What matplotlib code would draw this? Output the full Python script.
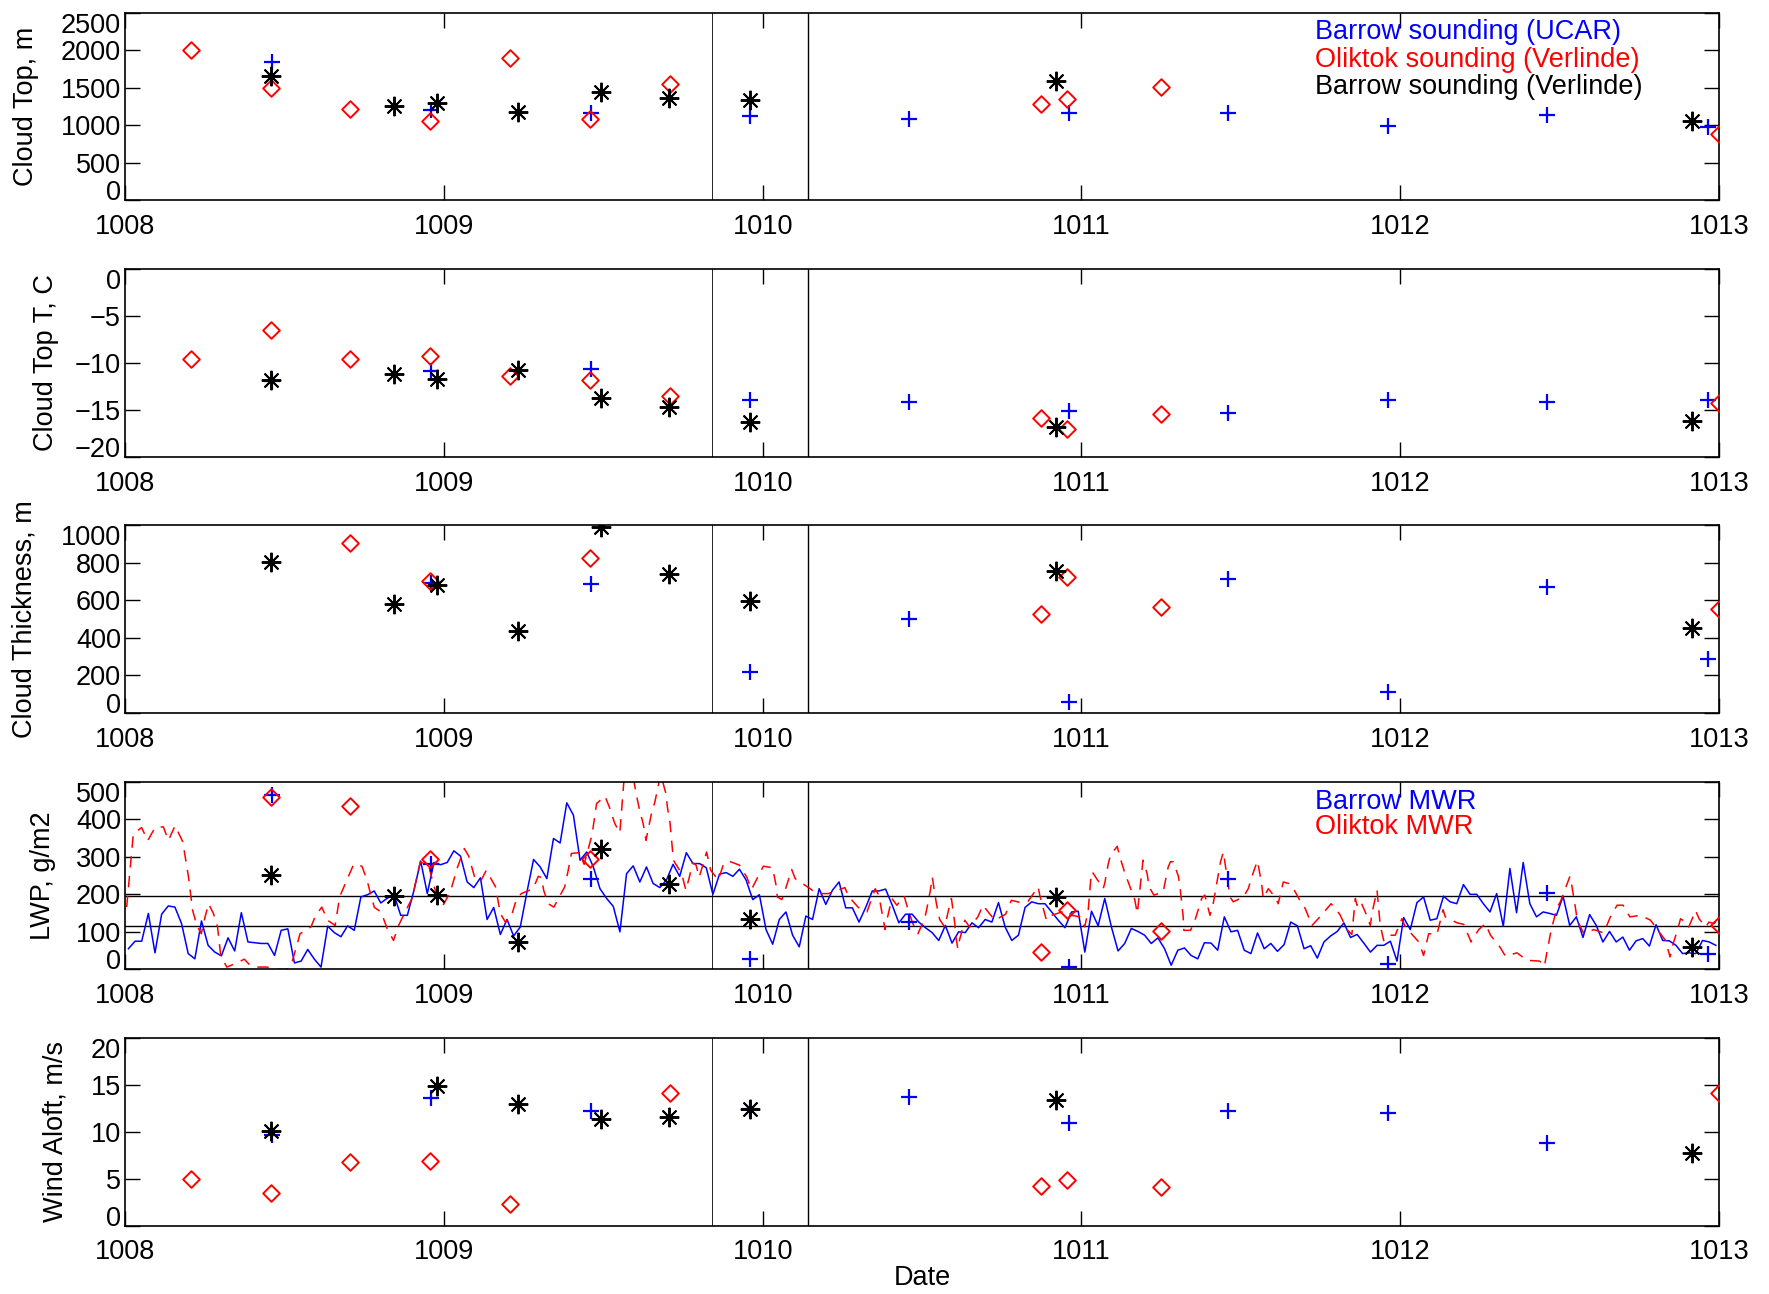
import numpy as np
import matplotlib.pyplot as plt
from matplotlib.path import Path

plt.rcParams['font.family'] = ['Liberation Sans', 'DejaVu Sans']

# ---- sounding data -------------------------------------------------------
# Barrow sounding (UCAR)
ucar_t = [1008.46, 1008.96, 1009.46, 1009.96, 1010.46, 1010.96, 1011.46, 1011.96, 1012.46, 1012.965]
ucar_top = [1850, 1205, 1170, 1120, 1086, 1160, 1162, 985, 1140, 972]
ucar_topT = [-11.95, -10.83, -10.66, -13.96, -14.13, -15.13, -15.28, -13.89, -14.14, -13.89]
ucar_thick = [np.nan, 692, 688, 216, 498, 57, 713, 109, 669, 286]
ucar_lwp = [464, 280, 242, 28, 126, 6, 242, 13, 204, 42]
ucar_wind = [9.65, 13.62, 12.23, 12.38, 13.72, 10.96, 12.23, 11.99, 8.83, np.nan]

# Oliktok sounding (Verlinde)
olk_t = [1008.207, 1008.458, 1008.707, 1008.957, 1009.207, 1009.458, 1009.708, 1010.872, 1010.955, 1011.248, 1013.0]
olk_top = [2000, 1497, 1217, 1052, 1894, 1083, 1546, 1287, 1345, 1509, 882]
olk_topT = [-9.52, -6.43, -9.52, -9.27, -11.4, -11.76, -13.5, -15.81, -17.05, -15.42, -14.25]
olk_thick = [np.nan, np.nan, 906, 701, np.nan, 825, np.nan, 527, 722, 567, 553]
olk_lwp = [np.nan, 460, 435, 295, np.nan, 293, np.nan, 46, 157, 102, 117]
olk_wind = [4.96, 3.44, 6.81, 6.88, 2.27, np.nan, 14.18, 4.26, 4.82, 4.15, 14.18]

# Barrow sounding (Verlinde)
brw_t = [1008.458, 1008.843, 1008.977, 1009.232, 1009.492, 1009.706, 1009.959, 1010.92, 1012.916]
brw_top = [1653, 1261, 1297, 1176, 1439, 1364, 1333, 1594, 1051]
brw_topT = [-11.83, -11.19, -11.65, -10.76, -13.78, -14.74, -16.27, -16.87, -16.16]
brw_thick = [807, 581, 683, 439, 990, 740, 599, 758, 454]
brw_lwp = [251, 196, 199, 73, 322, 227, 133, 193, 60]
brw_wind = [10.07, np.nan, 14.86, 13.01, 11.38, 11.6, 12.38, 13.44, 7.70]

# ---- MWR time series -----------------------------------------------------
# Barrow MWR, half-hourly from 1008.0105
barrow_t0 = 1008.0105
barrow_dt = 1.0 / 48
barrow_lwp = [
    55, 75, 75, 149, 44, 147, 169, 166, 122, 42,
    28, 129, 64, 46, 36, 84, 49, 151, 73, 71,
    69, 69, 37, 104, 108, 17, 22, 53, 27, 6,
    115, 98, 87, 116, 104, 193, 199, 209, 177, 190,
    198, 144, 144, 211, 289, 202, 285, 279, 285, 316,
    302, 233, 218, 244, 133, 165, 93, 133, 89, 113,
    206, 293, 273, 242, 349, 337, 444, 411, 291, 313,
    273, 215, 189, 168, 100, 255, 276, 233, 273, 229,
    218, 238, 280, 248, 311, 282, 282, 271, 200, 254,
    258, 248, 267, 238, 186, 199, 106, 67, 133, 153,
    91, 60, 142, 133, 215, 173, 211, 233, 164, 164,
    126, 165, 209, 209, 214, 171, 124, 147, 147, 126,
    111, 98, 77, 117, 70, 100, 98, 124, 111, 133,
    126, 178, 113, 77, 91, 165, 180, 175, 175, 153,
    131, 111, 153, 155, 46, 155, 116, 189, 113, 49,
    69, 109, 101, 91, 69, 84, 55, 11, 51, 57,
    37, 28, 71, 70, 51, 140, 100, 104, 51, 42,
    97, 55, 69, 48, 66, 126, 116, 55, 63, 30,
    73, 89, 101, 124, 85, 93, 70, 46, 64, 64,
    75, 22, 138, 106, 178, 193, 131, 135, 195, 180,
    175, 226, 200, 200, 175, 153, 202, 115, 269, 151,
    285, 175, 140, 153, 149, 144, 195, 117, 140, 85,
    146, 117, 73, 101, 73, 86, 51, 76, 82, 62,
    119, 77, 76, 64, 42, 44, 42, 77, 73, 64,
]

# Oliktok MWR
oliktok_t = [
    1008.005, 1008.026, 1008.052, 1008.071, 1008.094, 1008.120, 1008.136, 1008.157, 1008.181, 1008.199,
    1008.212, 1008.225, 1008.239, 1008.251, 1008.262, 1008.277, 1008.290, 1008.300, 1008.319, 1008.345,
    1008.374, 1008.392, 1008.413, 1008.445, 1008.471, 1008.508, 1008.523, 1008.549, 1008.583, 1008.597,
    1008.617, 1008.635, 1008.659, 1008.673, 1008.691, 1008.717, 1008.743, 1008.759, 1008.771, 1008.782,
    1008.803, 1008.822, 1008.842, 1008.858, 1008.876, 1008.900, 1008.926, 1008.952, 1008.968, 1008.984,
    1008.999, 1009.020, 1009.043, 1009.064, 1009.078, 1009.099, 1009.117, 1009.133, 1009.162, 1009.177,
    1009.193, 1009.211, 1009.228, 1009.243, 1009.280, 1009.296, 1009.306, 1009.313, 1009.327, 1009.345,
    1009.379, 1009.390, 1009.400, 1009.424, 1009.440, 1009.465, 1009.479, 1009.505, 1009.519, 1009.536,
    1009.552, 1009.568, 1009.590, 1009.605, 1009.615, 1009.625, 1009.634, 1009.651, 1009.662, 1009.680,
    1009.697, 1009.701, 1009.709, 1009.720, 1009.746, 1009.759, 1009.770, 1009.780, 1009.791, 1009.801,
    1009.816, 1009.824, 1009.837, 1009.861, 1009.876, 1009.892, 1009.927, 1009.950, 1009.965, 1010.002,
    1010.031, 1010.042, 1010.046, 1010.060, 1010.073, 1010.091, 1010.102, 1010.149, 1010.170, 1010.206,
    1010.258, 1010.269, 1010.300, 1010.327, 1010.353, 1010.364, 1010.384, 1010.389, 1010.405, 1010.421,
    1010.444, 1010.453, 1010.471, 1010.487, 1010.508, 1010.515, 1010.526, 1010.532, 1010.539, 1010.545,
    1010.555, 1010.571, 1010.585, 1010.592, 1010.602, 1010.607, 1010.612, 1010.617, 1010.634, 1010.649,
    1010.675, 1010.691, 1010.710, 1010.728, 1010.762, 1010.780, 1010.815, 1010.833, 1010.864, 1010.869,
    1010.890, 1010.906, 1010.953, 1010.969, 1010.995, 1011.010, 1011.021, 1011.031, 1011.036, 1011.068,
    1011.073, 1011.084, 1011.091, 1011.112, 1011.122, 1011.136, 1011.152, 1011.167, 1011.175, 1011.183,
    1011.193, 1011.206, 1011.212, 1011.227, 1011.256, 1011.272, 1011.279, 1011.288, 1011.304, 1011.309,
    1011.314, 1011.319, 1011.321, 1011.342, 1011.356, 1011.377, 1011.387, 1011.403, 1011.413, 1011.436,
    1011.445, 1011.466, 1011.476, 1011.508, 1011.523, 1011.541, 1011.552, 1011.565, 1011.570, 1011.586,
    1011.607, 1011.617, 1011.633, 1011.649, 1011.659, 1011.685, 1011.702, 1011.723, 1011.749, 1011.783,
    1011.810, 1011.833, 1011.848, 1011.859, 1011.864, 1011.874, 1011.890, 1011.906, 1011.911, 1011.927,
    1011.937, 1011.948, 1011.963, 1011.984, 1012.005, 1012.016, 1012.058, 1012.073, 1012.089, 1012.115,
    1012.134, 1012.141, 1012.178, 1012.199, 1012.222, 1012.246, 1012.267, 1012.283, 1012.312, 1012.330,
    1012.366, 1012.398, 1012.437, 1012.452, 1012.461, 1012.473, 1012.484, 1012.492, 1012.502, 1012.532,
    1012.536, 1012.542, 1012.549, 1012.555, 1012.576, 1012.607, 1012.638, 1012.659, 1012.680, 1012.699,
    1012.720, 1012.754, 1012.785, 1012.816, 1012.832, 1012.846, 1012.856, 1012.869, 1012.879, 1012.895,
    1012.905, 1012.926, 1012.937, 1012.958, 1012.968, 1012.984, 1013.000,
]
oliktok_lwp = [
    166, 362, 378, 343, 378, 380, 344, 383, 340, 246,
    157, 117, 95, 140, 175, 149, 113, 37, 6, 15,
    27, 11, 6, 6, 0, 0, 17, 95, 113, 142,
    166, 131, 117, 193, 229, 280, 275, 238, 198, 165,
    153, 109, 77, 117, 149, 189, 286, 278, 224, 184,
    173, 206, 273, 322, 302, 238, 238, 264, 220, 149,
    126, 140, 188, 202, 215, 248, 245, 211, 175, 166,
    220, 264, 309, 311, 280, 360, 442, 462, 433, 389,
    364, 540, 530, 460, 420, 389, 344, 415, 447, 520,
    467, 433, 393, 291, 255, 211, 246, 284, 278, 246,
    289, 313, 264, 238, 278, 289, 278, 246, 213, 275,
    271, 224, 193, 186, 218, 266, 242, 215, 202, 202,
    218, 195, 165, 153, 215, 198, 106, 129, 189, 171,
    195, 168, 122, 95, 135, 162, 211, 246, 206, 175,
    133, 113, 166, 189, 126, 82, 55, 77, 131, 113,
    140, 171, 150, 131, 147, 184, 177, 182, 220, 198,
    131, 144, 157, 144, 140, 113, 157, 260, 257, 215,
    230, 282, 304, 328, 295, 257, 220, 186, 149, 211,
    291, 255, 220, 198, 206, 273, 287, 287, 248, 220,
    180, 140, 104, 104, 131, 189, 198, 144, 175, 286,
    313, 193, 180, 193, 215, 264, 289, 229, 189, 215,
    193, 175, 233, 229, 224, 184, 162, 117, 141, 175,
    147, 106, 93, 189, 171, 184, 153, 117, 149, 211,
    117, 77, 91, 91, 135, 113, 73, 37, 95, 93,
    159, 140, 124, 120, 73, 106, 122, 91, 60, 35,
    44, 24, 22, 8, 51, 104, 140, 166, 180, 248,
    233, 202, 166, 131, 95, 106, 97, 140, 171, 171,
    140, 144, 131, 95, 77, 33, 69, 104, 135, 126,
    113, 157, 135, 113, 126, 122, 135,
]
lwp_refs = [195, 115]
flight_gap = [1009.842, 1010.141]

# ---- plotting ------------------------------------------------------------
fs = 19.5
diamond = Path([(0, 1), (1, 0), (0, -1), (-1, 0), (0, 1)],
               [Path.MOVETO, Path.LINETO, Path.LINETO, Path.LINETO, Path.CLOSEPOLY])

fig = plt.figure(figsize=(17.69, 12.94), dpi=100)
bottoms = [0.8452, 0.6470, 0.4491, 0.2509, 0.0529]
axes = [fig.add_axes([0.0707, b, 0.9011, 0.1449]) for b in bottoms]

panels = [
    ("Cloud Top, m", (0, 2500), np.arange(0, 2501, 500), ucar_top, olk_top, brw_top, -0.0622),
    ("Cloud Top T, C", (-20, 0), np.arange(-20, 1, 5), ucar_topT, olk_topT, brw_topT, -0.0496),
    ("Cloud Thickness, m", (0, 1000), np.arange(0, 1001, 200), ucar_thick, olk_thick, brw_thick, -0.0634),
    ("LWP, g/m2", (0, 500), np.arange(0, 501, 100), ucar_lwp, olk_lwp, brw_lwp, -0.0514),
    ("Wind Aloft, m/s", (0, 20), np.arange(0, 21, 5), ucar_wind, olk_wind, brw_wind, -0.0435),
]

for i, (ax, (lab, ylim, yt, yb, yr, yk, lx)) in enumerate(zip(axes, panels)):
    ax.axvline(flight_gap[0], color='black', lw=0.6, zorder=1)
    ax.axvline(flight_gap[1], color='black', lw=1.0, zorder=1)

    if i == 3:
        bt = barrow_t0 + barrow_dt * np.arange(len(barrow_lwp))
        ax.plot(bt, barrow_lwp, color='blue', lw=1.1, zorder=2)
        ax.plot(oliktok_t, oliktok_lwp, color='red', lw=1.1, dashes=(7.5, 5.5), zorder=2)
        for h in lwp_refs:
            ax.axhline(h, color='black', lw=1.0, zorder=1)
        ax.text(0.7465, 0.892, "Barrow MWR", color='blue', fontsize=fs,
                transform=ax.transAxes, ha='left', va='center')
        ax.text(0.7465, 0.759, "Oliktok MWR", color='red', fontsize=fs,
                transform=ax.transAxes, ha='left', va='center')

    ax.plot(ucar_t, yb, ls='none', marker='+', ms=11.5, mew=1.6, color='blue', zorder=3)
    ax.plot(olk_t, yr, ls='none', marker=diamond, ms=12, mew=1.4, mfc='none', mec='red', zorder=4)
    ax.plot(brw_t, yk, ls='none', marker=(8, 2, 0), ms=14, mew=1.4, color='black', zorder=5)

    ax.set_xlim(1008, 1013)
    ax.set_ylim(*ylim)
    ax.set_xticks(np.arange(1008, 1014))
    ax.set_yticks(yt)
    ax.tick_params(direction='in', top=True, right=True, length=11, width=1.0,
                   labelsize=fs)
    ax.tick_params(axis='x', pad=10)
    ax.tick_params(axis='y', pad=3)
    for sp in ax.spines.values():
        sp.set_linewidth(1.2)
    ticks = ax.yaxis.get_major_ticks()
    ticks[0].label1.set_va('baseline')
    ticks[-1].label1.set_va('top')

    ax.set_ylabel(lab, fontsize=fs)
    ax.yaxis.label.set_va('center')
    ax.yaxis.set_label_coords(lx, 0.5)

axes[0].text(0.7465, 0.898, "Barrow sounding (UCAR)", color='blue', fontsize=fs,
             transform=axes[0].transAxes, ha='left', va='center')
axes[0].text(0.7465, 0.750, "Oliktok sounding (Verlinde)", color='red', fontsize=fs,
             transform=axes[0].transAxes, ha='left', va='center')
axes[0].text(0.7465, 0.604, "Barrow sounding (Verlinde)", color='black', fontsize=fs,
             transform=axes[0].transAxes, ha='left', va='center')

fig.text(0.5215, 0.0124, "Date", fontsize=fs, ha='center', va='center')

fig.savefig("out.png", dpi=100)
